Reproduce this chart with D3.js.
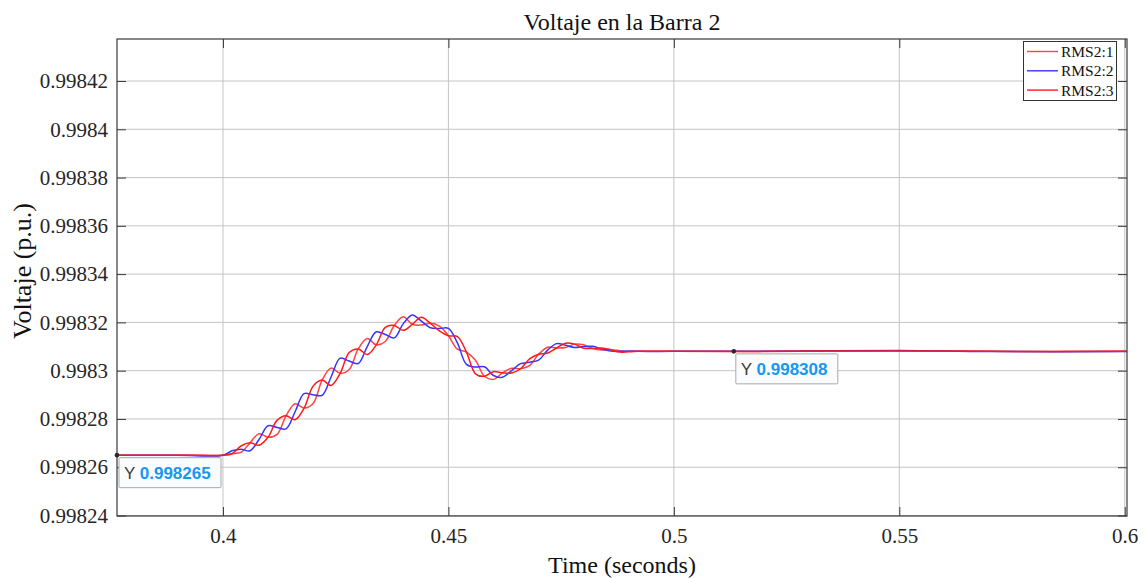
<!DOCTYPE html>
<html>
<head>
<meta charset="utf-8">
<script src="https://cdn.jsdelivr.net/npm/d3@7"></script>
<style>
  html, body { margin: 0; padding: 0; background: #ffffff; }
  svg { display: block; }
</style>
</head>
<body>
<svg id="chart" width="1145" height="578"></svg>
<script>
// ---------------- DATA ----------------
const time = [0.376, 0.39, 0.400, 0.402, 0.404, 0.406, 0.408, 0.410, 0.412, 0.414, 0.416, 0.418,
  0.420, 0.422, 0.424, 0.426, 0.428, 0.430, 0.432, 0.434, 0.436, 0.438,
  0.440, 0.442, 0.444, 0.446, 0.448, 0.450, 0.452, 0.454, 0.456, 0.458,
  0.460, 0.462, 0.464, 0.466, 0.468, 0.470, 0.472, 0.474, 0.476, 0.478,
  0.480, 0.482, 0.484, 0.486, 0.488, 0.490, 0.492, 0.500, 0.520, 0.550, 0.570, 0.602];

const rms2_1 = [0.998265, 0.998265, 0.998265, 0.9982656, 0.9982662, 0.9982701, 0.9982739, 0.9982724, 0.9982736, 0.9982813, 0.9982863, 0.9982845,
  0.9982864, 0.9982961, 0.9983011, 0.9982989, 0.9983005, 0.998309, 0.9983133, 0.9983107, 0.9983121, 0.9983187,
  0.9983223, 0.9983192, 0.9983189, 0.9983196, 0.9983185, 0.9983145, 0.9983089, 0.9983077, 0.9983043, 0.9982977,
  0.9982964, 0.9982991, 0.998301, 0.9983008, 0.9983021, 0.9983068, 0.9983097, 0.9983094, 0.9983096, 0.998311,
  0.9983107, 0.9983092, 0.9983086, 0.9983087, 0.9983083, 0.9983079, 0.998308, 0.998308, 0.9983079, 0.9983083, 0.998308, 0.998308];

const rms2_2 = [0.998265, 0.998265, 0.998265, 0.9982668, 0.9982675, 0.9982668, 0.9982715, 0.9982772, 0.9982765, 0.9982759, 0.998283, 0.9982905,
  0.99829, 0.9982898, 0.9982975, 0.9983052, 0.998304, 0.998303, 0.99831, 0.9983161, 0.998315, 0.9983136,
  0.9983195, 0.9983231, 0.9983205, 0.9983178, 0.9983175, 0.9983175, 0.9983115, 0.9983026, 0.9983015, 0.9983016,
  0.998298, 0.9982973, 0.9983, 0.9983029, 0.9983035, 0.9983044, 0.9983085, 0.9983112, 0.9983105, 0.9983096,
  0.99831, 0.9983101, 0.998309, 0.9983081, 0.998308, 0.9983082, 0.998308, 0.998308, 0.9983081, 0.9983084, 0.9983079, 0.998308];

const rms2_3 = [0.998265, 0.998265, 0.998265, 0.9982656, 0.9982688, 0.9982701, 0.9982691, 0.9982724, 0.9982794, 0.9982813, 0.9982797, 0.9982845,
  0.9982936, 0.9982961, 0.9982939, 0.9982989, 0.9983075, 0.998309, 0.9983067, 0.9983107, 0.9983179, 0.9983187,
  0.9983167, 0.9983192, 0.9983221, 0.9983196, 0.9983165, 0.9983145, 0.9983141, 0.9983077, 0.9982987, 0.9982977,
  0.9982996, 0.9982991, 0.998299, 0.9983008, 0.9983049, 0.9983068, 0.9983073, 0.9983094, 0.9983114, 0.998311,
  0.9983093, 0.9983092, 0.9983094, 0.9983087, 0.9983077, 0.9983079, 0.998308, 0.998308, 0.998308, 0.9983082, 0.998308, 0.998308];

const seriesNames = ["RMS2:1", "RMS2:2", "RMS2:3"];
const seriesColors = ["#ff4444", "#3535ff", "#ff1a1a"];

const xTicks = [0.4, 0.45, 0.5, 0.55, 0.6];
const xTickLabels = ["0.4", "0.45", "0.5", "0.55", "0.6"];
const yTicks = [0.99824, 0.99826, 0.99828, 0.9983, 0.99832, 0.99834, 0.99836, 0.99838, 0.9984, 0.99842];
const yTickLabels = ["0.99824", "0.99826", "0.99828", "0.9983", "0.99832", "0.99834", "0.99836", "0.99838", "0.9984", "0.99842"];

const xDomain = [0.3765, 0.6005];
const yDomain = [0.9982398, 0.9984374];

const datatips = [
  { t: 0.3765, v: 0.998265, label: "0.998265" },
  { t: 0.5133, v: 0.998308, label: "0.998308" }
];

const titleText = "Voltaje en la Barra 2";
const xLabelText = "Time (seconds)";
const yLabelText = "Voltaje (p.u.)";

// ---------------- LAYOUT ----------------
const svg = d3.select("#chart");
const L = 117, R = 1127, T = 39, B = 516;
const serif = "'Liberation Serif', 'Times New Roman', serif";

const x = d3.scaleLinear().domain(xDomain).range([L, R]);
const y = d3.scaleLinear().domain(yDomain).range([B, T]);

svg.append("rect").attr("x", 0).attr("y", 0).attr("width", 1145).attr("height", 578).attr("fill", "#fff");
svg.append("rect").attr("x", L).attr("y", T).attr("width", R - L).attr("height", B - T).attr("fill", "#fff");

svg.append("defs").append("clipPath").attr("id", "clip")
  .append("rect").attr("x", L).attr("y", T).attr("width", R - L).attr("height", B - T);

// grid
const grid = svg.append("g");
grid.selectAll("line.gx").data(xTicks).join("line")
  .attr("x1", d => x(d)).attr("x2", d => x(d)).attr("y1", T).attr("y2", B)
  .attr("stroke", "#c4c4c4").attr("stroke-width", 1);
grid.selectAll("line.gy").data(yTicks).join("line")
  .attr("x1", L).attr("x2", R).attr("y1", d => y(d)).attr("y2", d => y(d))
  .attr("stroke", "#c4c4c4").attr("stroke-width", 1);

// lines
const seriesData = [rms2_1, rms2_2, rms2_3];
const lineGen = d3.line().x(d => x(d[0])).y(d => y(d[1])).curve(d3.curveCatmullRom.alpha(0.5));
const plot = svg.append("g").attr("clip-path", "url(#clip)");
[0, 1, 2].forEach(i => {
  const pts = time.map((t, k) => [t, seriesData[i][k]]);
  plot.append("path").attr("d", lineGen(pts))
    .attr("fill", "none").attr("stroke", seriesColors[i]).attr("stroke-width", 1.5)
    .attr("stroke-linejoin", "round");
});

// axes
const axisColor = "#3a3a3a";
function styleAxis(g) {
  g.select(".domain").remove();
  g.selectAll(".tick line").attr("stroke", axisColor);
  g.selectAll(".tick text").attr("fill", "#262626").style("font-family", serif).style("font-size", "21px");
}
svg.append("g").attr("transform", `translate(${L},0)`)
  .call(d3.axisLeft(y).tickValues(yTicks).tickFormat((d, i) => yTickLabels[i]).tickSize(-9).tickPadding(9))
  .call(styleAxis);
svg.append("g").attr("transform", `translate(${R},0)`)
  .call(d3.axisRight(y).tickValues(yTicks).tickFormat("").tickSize(-9))
  .call(styleAxis);
svg.append("g").attr("transform", `translate(0,${B})`)
  .call(d3.axisBottom(x).tickValues(xTicks).tickFormat((d, i) => xTickLabels[i]).tickSize(-9).tickPadding(12))
  .call(styleAxis);
svg.append("g").attr("transform", `translate(0,${T})`)
  .call(d3.axisTop(x).tickValues(xTicks).tickFormat("").tickSize(-9))
  .call(styleAxis);

// box
svg.append("rect").attr("x", L).attr("y", T).attr("width", R - L).attr("height", B - T)
  .attr("fill", "none").attr("stroke", axisColor).attr("stroke-width", 1.2);

// labels
svg.append("text").attr("x", 622).attr("y", 30).attr("text-anchor", "middle")
  .style("font-family", serif).style("font-size", "24px").attr("fill", "#111").text(titleText);
svg.append("text").attr("x", 622).attr("y", 573).attr("text-anchor", "middle")
  .style("font-family", serif).style("font-size", "24px").attr("fill", "#111").text(xLabelText);
svg.append("text").attr("transform", "translate(31,271) rotate(-90)").attr("text-anchor", "middle")
  .style("font-family", serif).style("font-size", "26px").attr("fill", "#111").text(yLabelText);

// legend
const lg = svg.append("g");
lg.append("rect").attr("x", 1023.5).attr("y", 41.5).attr("width", 93).attr("height", 59)
  .attr("fill", "#fff").attr("stroke", "#333").attr("stroke-width", 1);
seriesNames.forEach((name, i) => {
  const yy = 51.5 + i * 19.3;
  lg.append("line").attr("x1", 1027).attr("x2", 1058).attr("y1", yy).attr("y2", yy)
    .attr("stroke", seriesColors[i]).attr("stroke-width", 1.4);
  lg.append("text").attr("x", 1061).attr("y", yy + 5.5)
    .style("font-family", serif).style("font-size", "15.5px").attr("fill", "#111").text(name);
});

// datatips
const sans = "'Liberation Sans', Arial, sans-serif";
datatips.forEach(dt => {
  const px = x(dt.t), py = y(dt.v);
  const g = svg.append("g");
  g.append("rect").attr("x", px + 2).attr("y", py + 2.5).attr("width", 102).attr("height", 30)
    .attr("fill", "#fafbfd").attr("stroke", "#a8a8a8").attr("stroke-width", 1).attr("rx", 1);
  const tx = g.append("text").attr("x", px + 7).attr("y", py + 24).style("font-family", sans).style("font-size", "17px");
  tx.append("tspan").attr("fill", "#3c3c3c").text("Y ");
  tx.append("tspan").attr("fill", "#1597f2").style("font-weight", "bold").text(dt.label);
  g.append("circle").attr("cx", px).attr("cy", py).attr("r", 2.3).attr("fill", "#2a2a2a");
});
</script>
</body>
</html>
